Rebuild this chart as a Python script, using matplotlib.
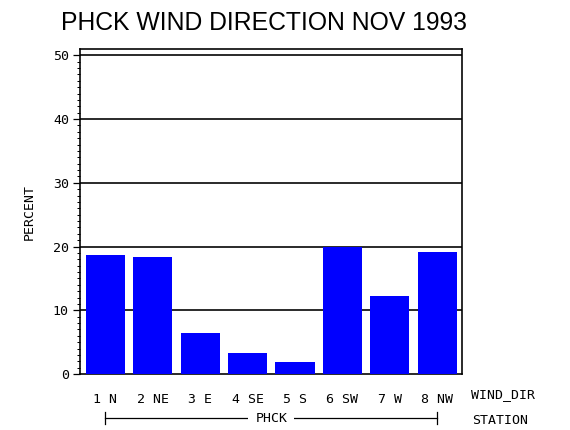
import matplotlib
matplotlib.use("Agg")
import matplotlib.pyplot as plt
from matplotlib.ticker import MultipleLocator
import matplotlib.transforms as mtransforms

directions = ["1 N", "2 NE", "3 E", "4 SE", "5 S", "6 SW", "7 W", "8 NW"]
percent = [18.6, 18.4, 6.4, 3.3, 1.9, 20.0, 12.3, 19.1]
yticks = [0, 10, 20, 30, 40, 50]
station = "PHCK"
title = "PHCK WIND DIRECTION NOV 1993"

W, H = 570, 430
fig = plt.figure(figsize=(W / 100, H / 100), dpi=100)
ax = fig.add_axes([80 / W, 1 - 374 / H, (462 - 80) / W, (374 - 49.3) / H])

mono = "DejaVu Sans Mono"
lw = 0.9

x = list(range(len(directions)))
ax.bar(x, percent, width=0.825, color="#0000FF", zorder=3, linewidth=0)
for t in yticks[1:]:
    ax.axhline(t, color="black", linewidth=lw * 1.3, zorder=1)

ax.set_xlim(-0.533, 7.52)
ax.set_ylim(0, 50.94)
ax.set_yticks(yticks)
ax.set_yticklabels([str(v) for v in yticks], fontfamily=mono, fontsize=9.5)
ax.yaxis.set_minor_locator(MultipleLocator(1))
ax.tick_params(axis="y", which="major", length=5, width=lw, pad=3)
ax.tick_params(axis="y", which="minor", length=2.5, width=lw * 0.8)
ax.set_xticks(x)
ax.set_xticklabels(directions, fontfamily=mono, fontsize=9.5)
ax.tick_params(axis="x", length=0, pad=14)
for s in ax.spines.values():
    s.set_linewidth(lw * 1.3)

ax.set_ylabel("PERCENT", fontfamily=mono, fontsize=9.5, labelpad=12)

fig.text(264 / W, 1 - 22.5 / H, title, ha="center", va="center",
         fontfamily="Liberation Sans", fontsize=17.8)

fig.text(471 / W, 1 - 395 / H, "WIND_DIR", ha="left", va="center",
         fontfamily=mono, fontsize=9.5)
fig.text(472 / W, 1 - 421 / H, "STATION", ha="left", va="center",
         fontfamily=mono, fontsize=9.5)

# group bracket under categories
trans = mtransforms.blended_transform_factory(ax.transData, fig.transFigure)
yl = 1 - 418 / H
ycap0, ycap1 = 1 - 412 / H, 1 - 423.5 / H
ax.plot([0, 7], [yl, yl], transform=trans, color="black", lw=lw, clip_on=False)
ax.plot([0, 0], [ycap0, ycap1], transform=trans, color="black", lw=lw, clip_on=False)
ax.plot([7, 7], [ycap0, ycap1], transform=trans, color="black", lw=lw, clip_on=False)
ax.text(3.5, yl, station, transform=trans, ha="center", va="center",
        fontfamily=mono, fontsize=9.5,
        bbox=dict(facecolor="white", edgecolor="none", pad=5))

fig.savefig("out.png", dpi=100)
